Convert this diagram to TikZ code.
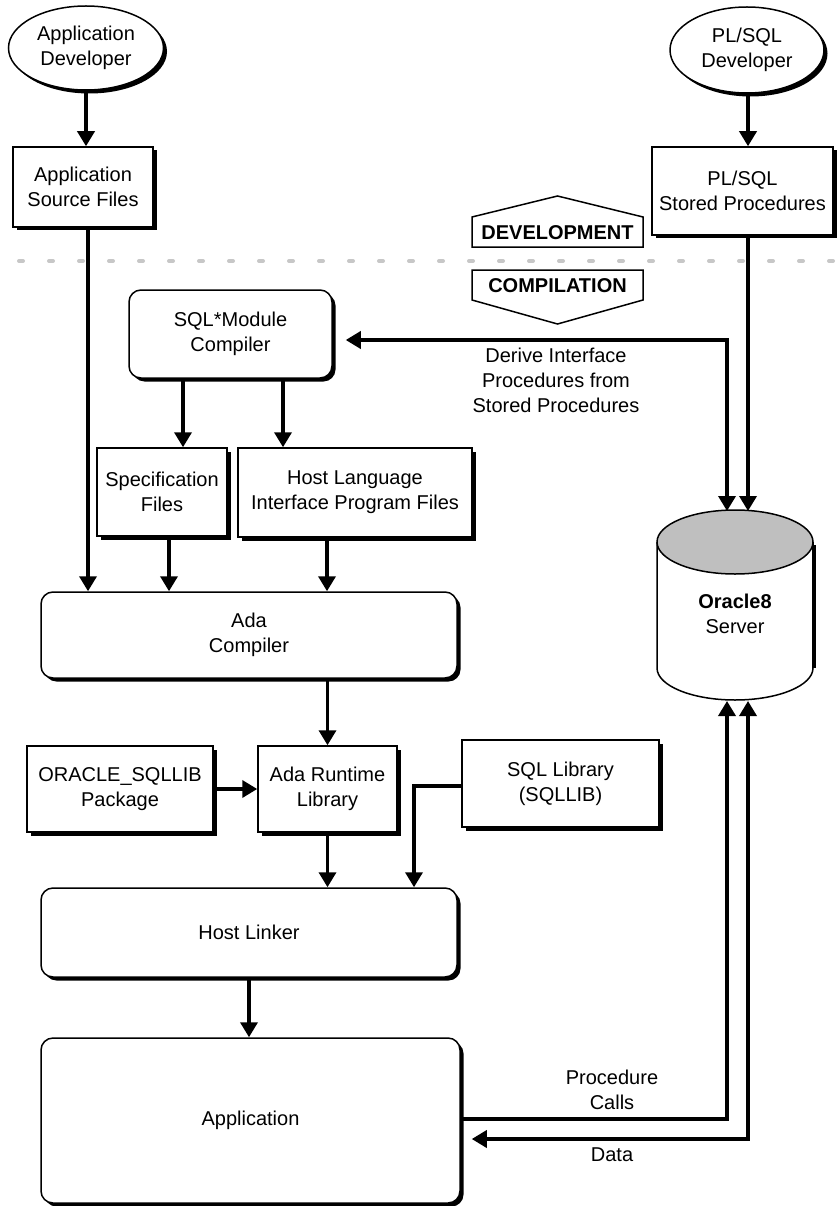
\documentclass[tikz,border=0pt]{standalone}
\usepackage{fontspec}
\setmainfont{Liberation Sans}
\usetikzlibrary{arrows.meta,shadows,shapes.geometric}
\begin{document}
\begin{tikzpicture}[x=1pt,y=-1pt,
  txt/.style={font=\fontsize{20}{25}\selectfont, align=center},
  shad/.style={drop shadow={shadow xshift=3.5pt,shadow yshift=-3.5pt,fill=black,opacity=1}},
  box/.style={txt, draw, line width=1.5pt, fill=white, shad, inner sep=0pt},
  rbox/.style={box, rounded corners=12pt},
  ell/.style={txt, ellipse, draw, line width=1.5pt, fill=white, shad, inner sep=0pt},
  arr/.style={line width=3.5pt, -{Triangle[length=15pt,width=17pt]}},
  darr/.style={line width=3.5pt, {Triangle[length=15pt,width=17pt]}-{Triangle[length=15pt,width=17pt]}},
  pent/.style={line width=1.5pt, fill=white}
]
\useasboundingbox (0,0) rectangle (836,1206);
\fill[white] (0,0) rectangle (836,1206);

% separator
\draw[black!22, line width=4pt, line cap=round, dash pattern=on 4pt off 26pt] (-11,261) -- (840,261);

% column coordinates
\coordinate (c88) at (88,0);
\coordinate (c183) at (183,0);
\coordinate (c283) at (283,0);
\coordinate (c169) at (169,0);
\coordinate (c327) at (327,0);
\coordinate (c414) at (414,0);

% nodes
\node[ell, minimum width=155pt, minimum height=84pt] (appdev) at (86,48) {Application\\Developer};
\node[ell, minimum width=154pt, minimum height=86pt] (pldev) at (747,50) {PL/SQL\\Developer};
\node[box, minimum width=140pt, minimum height=80pt] (appsrc) at (83,187) {Application\\Source Files};
\node[box, minimum width=181pt, minimum height=88pt] (plsp) at (742.5,191) {PL/SQL\\Stored Procedures};

\draw[pent] (472,247) -- (643,247) -- (643,217) -- (557.5,196) -- (472,217) -- cycle;
\node[txt, font=\fontsize{20}{25}\selectfont\bfseries] (dev) at (557.5,233) {DEVELOPMENT};
\draw[pent] (472,270) -- (643,270) -- (643,300) -- (557.5,324) -- (472,300) -- cycle;
\node[txt, font=\fontsize{20}{25}\selectfont\bfseries] (comp) at (557.5,286) {COMPILATION};

\node[rbox, minimum width=203pt, minimum height=88pt] (sqlm) at (230.5,334) {SQL*Module\\Compiler};
\node[box, minimum width=130pt, minimum height=88pt] (spec) at (162,492) {Specification\\Files};
\node[box, minimum width=234pt, minimum height=89pt] (host) at (355,492.5) {Host Language\\Interface Program Files};
\node[rbox, minimum width=416pt, minimum height=86pt] (ada) at (249,635) {Ada\\Compiler};
\node[box, minimum width=186pt, minimum height=86pt] (osl) at (120,789) {ORACLE\_SQLLIB\\Package};
\node[box, minimum width=139pt, minimum height=86pt] (rt) at (327.5,789) {Ada Runtime\\Library};
\node[box, minimum width=197pt, minimum height=87pt] (sql) at (560.5,783.5) {SQL Library\\(SQLLIB)};
\node[rbox, minimum width=416pt, minimum height=89pt] (hl) at (249,932.5) {Host Linker};
\node[rbox, minimum width=419pt, minimum height=165pt] (app) at (250.5,1120.5) {Application};

% Oracle cylinder
\draw[line width=1.5pt, fill=white] (657,542) -- (657,668) arc[start angle=180, end angle=360, x radius=78pt, y radius=32pt] -- (813,542);
\draw[line width=4.5pt] (814,545) -- (814,668);
\draw[line width=1.5pt, fill=black!25] (735,542) ellipse [x radius=78pt, y radius=32pt];
\node[txt] (ora) at (735,614) {\textbf{Oracle8}\\Server};
\coordinate (otop1) at (727,511);
\coordinate (otop2) at (748,511);
\coordinate (obot1) at (727,701);
\coordinate (obot2) at (748,701);

% connectors
\draw[arr] (appdev.south) -- (appdev.south |- appsrc.north);
\draw[arr] (pldev.south -| otop2) -- (plsp.north -| otop2);
\draw[arr] (appsrc.south -| c88) -- (ada.north -| c88);
\draw[arr] (plsp.south -| otop2) -- (otop2);
\draw[darr] ([xshift=13pt,yshift=-6pt]sqlm.east) -| (otop1);
\draw[arr] (sqlm.south -| c183) -- (spec.north -| c183);
\draw[arr] (sqlm.south -| c283) -- (host.north -| c283);
\draw[arr] (spec.south -| c169) -- (ada.north -| c169);
\draw[arr] (host.south -| c327) -- (ada.north -| c327);
\draw[arr] (ada.south -| rt.north) -- (rt.north);
\draw[arr] (osl.east) -- (rt.west);
\draw[arr] ([yshift=-2.5pt]sql.west) -| (hl.north -| c414);
\draw[arr] (rt.south) -- (rt.south |- hl.north);
\draw[arr] (hl.south) -- (hl.south |- app.north);
\draw[arr] ([yshift=1.5pt]app.east) -| (obot1);
\draw[darr] ([xshift=11pt,yshift=-18.5pt]app.east) -| (obot2);

% labels
\node[txt] (derive) at (556,380) {Derive Interface\\Procedures from\\Stored Procedures};
\node[txt] (pc) at (612,1090) {Procedure\\Calls};
\node[txt] (data) at (612,1155) {Data};
\end{tikzpicture}
\end{document}
